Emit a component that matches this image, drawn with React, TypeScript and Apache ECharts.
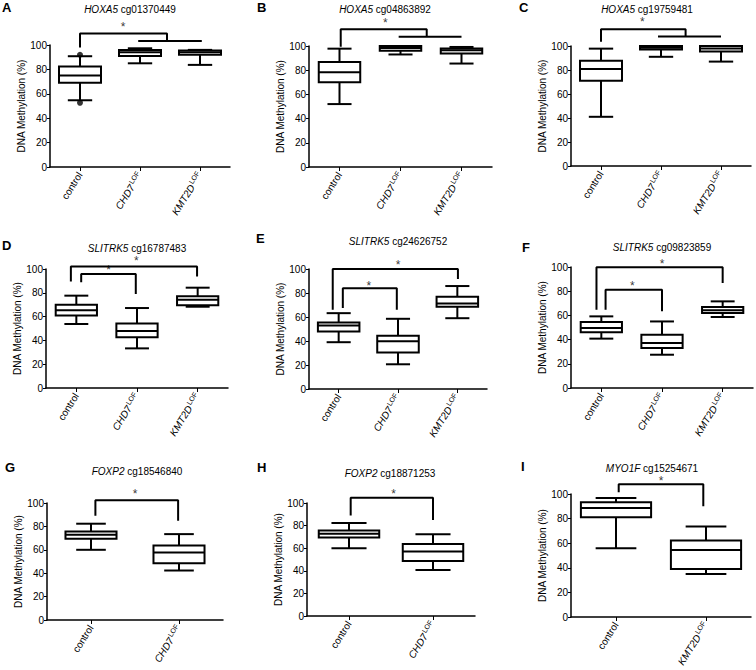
import React, { useEffect, useRef } from 'react';
import * as echarts from 'echarts';

const FONT = '"Liberation Sans", Arial, Helvetica, sans-serif';

// Categories
const catsThree = ['control', 'CHD7', 'KMT2D'];
const catsCHD7 = ['control', 'CHD7'];
const catsKMT2D = ['control', 'KMT2D'];

// Box statistics per group: [lower whisker, Q1, median, Q3, upper whisker]
const boxA = [[54.7, 69, 75, 82.4, 90.8], [85, 91, 94, 96, 97.3], [83.7, 92, 94, 95.4, 96]];
const outA = [[0, 92], [0, 52.6]];
const boxB = [[52, 70.1, 78.4, 86.8, 97.8], [93, 96, 98.4, 100, 100], [85.5, 93.7, 96.4, 98, 99.2]];
const boxC = [[41, 71.1, 80.8, 87.8, 97.8], [91, 97, 98.5, 100, 100], [87, 95.5, 98, 100, 100]];
const boxD = [[53.8, 61, 65.3, 70, 77.6], [33.3, 42.6, 47.9, 54.3, 67.2], [68.3, 69.5, 74.2, 77, 84.3]];
const boxE = [[39, 47.9, 52.9, 55.4, 63.2], [20.6, 30.4, 39.8, 44.3, 58.5], [59, 68.5, 71.3, 76.9, 85.8]];
const boxF = [[40.8, 46, 49.6, 54.5, 59.2], [27.5, 33, 37.2, 44, 55], [58.7, 62, 64.2, 67, 71.6]];
const boxG = [[60, 69.4, 72.9, 75.7, 82.3], [42.3, 48.6, 57.7, 63.7, 73.4]];
const boxH = [[59.9, 69.4, 72.7, 75.7, 82.2], [40.7, 48.7, 57, 63.8, 72.4]];
const boxI = [[55.9, 81, 88.6, 93.2, 96.7], [34.9, 39, 54.5, 62.1, 73.6]];

// Significance brackets: polylines in [category position, % methylation]
const brA = [[[0, 98], [0, 109.5], [1.45, 109.5], [1.45, 103.3]], [[0.97, 103.3], [2.03, 103.3]]];
const starA = [[0.72, 117]];
const brB = [[[0.02, 99.4], [0.02, 113.8], [1.43, 113.8], [1.43, 107.7]], [[0.97, 107.7], [2.0, 107.7]]];
const starB = [[0.75, 121.5]];
const brC = [[[0, 103.6], [0, 114], [1.41, 114], [1.41, 108]], [[0.95, 108], [2.0, 108]]];
const starC = [[0.69, 122.5]];
const brD = [[[-0.09, 89.6], [-0.09, 102.2], [1.99, 102.2], [1.99, 93.8]], [[0.08, 88.8], [0.08, 95.8], [0.98, 95.8], [0.98, 79]]];
const starD = [[0.99, 109], [0.53, 101.4]];
const brE = [[[-0.1, 66], [-0.1, 100], [2.01, 100], [2.01, 91.6]], [[0.07, 67.4], [0.07, 84], [0.98, 84], [0.98, 66]]];
const starE = [[1.0, 105.8], [0.51, 88.3]];
const brF = [[[-0.08, 64.7], [-0.08, 99.7], [2.0, 99.7], [2.0, 86.8]], [[0.07, 64.7], [0.07, 81.3], [1.0, 81.3], [1.0, 63.4]]];
const starF = [[1.0, 104.7], [0.51, 86.8]];
const brG = [[[0.05, 89], [0.05, 102.3], [0.99, 102.3], [0.99, 84.9]]];
const starG = [[0.5, 110]];
const brH = [[[0.02, 89], [0.02, 104.7], [1.0, 104.7], [1.0, 85]]];
const starH = [[0.53, 111]];
const brI = [[[0.03, 101.4], [0.03, 108], [0.97, 108], [0.97, 90]]];
const starI = [[0.5, 113]];

const yTicks = [0, 20, 40, 60, 80, 100];

type Panel = {
  letter: string; gene: string; probe: string; cats: string[]; boxes: number[][];
  outliers?: number[][]; brackets: number[][][]; stars: number[][];
  grid: { left: number; top: number; width: number; height: number };
  title: [number, number]; letterPos: [number, number]; nameGap: number; boxFrac: number;
};

const panels: Panel[] = [
  { letter: 'A', gene: 'HOXA5', probe: 'cg01370449', cats: catsThree, boxes: boxA, outliers: outA, brackets: brA, stars: starA,
    grid: { left: 50, top: 45, width: 180, height: 122 }, title: [130, 10], letterPos: [2, 8], nameGap: 23, boxFrac: 0.7 },
  { letter: 'B', gene: 'HOXA5', probe: 'cg04863892', cats: catsThree, boxes: boxB, brackets: brB, stars: starB,
    grid: { left: 309, top: 46, width: 183, height: 121 }, title: [385, 10], letterPos: [257, 8], nameGap: 22, boxFrac: 0.68 },
  { letter: 'C', gene: 'HOXA5', probe: 'cg19759481', cats: catsThree, boxes: boxC, brackets: brC, stars: starC,
    grid: { left: 571, top: 46, width: 180, height: 120 }, title: [647, 10], letterPos: [519, 8], nameGap: 22, boxFrac: 0.7 },
  { letter: 'D', gene: 'SLITRK5', probe: 'cg16787483', cats: catsThree, boxes: boxD, brackets: brD, stars: starD,
    grid: { left: 46, top: 269, width: 182, height: 119 }, title: [137, 249], letterPos: [2, 246], nameGap: 21, boxFrac: 0.68 },
  { letter: 'E', gene: 'SLITRK5', probe: 'cg24626752', cats: catsThree, boxes: boxE, brackets: brE, stars: starE,
    grid: { left: 309, top: 269, width: 178, height: 120 }, title: [398, 242], letterPos: [256, 239], nameGap: 22, boxFrac: 0.7 },
  { letter: 'F', gene: 'SLITRK5', probe: 'cg09823859', cats: catsThree, boxes: boxF, brackets: brF, stars: starF,
    grid: { left: 571, top: 267, width: 182, height: 121 }, title: [662, 248], letterPos: [522, 248], nameGap: 22, boxFrac: 0.68 },
  { letter: 'G', gene: 'FOXP2', probe: 'cg18546840', cats: catsCHD7, boxes: boxG, brackets: brG, stars: starG,
    grid: { left: 47, top: 503, width: 176, height: 117 }, title: [137, 472], letterPos: [5, 468], nameGap: 22, boxFrac: 0.58 },
  { letter: 'H', gene: 'FOXP2', probe: 'cg18871253', cats: catsCHD7, boxes: boxH, brackets: brH, stars: starH,
    grid: { left: 307, top: 503, width: 168, height: 113 }, title: [390, 474], letterPos: [257, 468], nameGap: 21, boxFrac: 0.72 },
  { letter: 'I', gene: 'MYO1F', probe: 'cg15254671', cats: catsKMT2D, boxes: boxI, brackets: brI, stars: starI,
    grid: { left: 571, top: 494, width: 180, height: 123 }, title: [652, 469], letterPos: [521, 467], nameGap: 22, boxFrac: 0.78 },
];

const BLACK = '#000';

function buildOption() {
  const grid: any[] = [];
  const xAxis: any[] = [];
  const yAxis: any[] = [];
  const series: any[] = [];
  const title: any[] = [];

  panels.forEach((p, k) => {
    grid.push({ ...p.grid, containLabel: false });
    xAxis.push({
      type: 'category', gridIndex: k, data: p.cats,
      axisLine: { show: true, onZero: false, lineStyle: { color: BLACK, width: 1.5 } },
      axisTick: { show: true, alignWithLabel: true, length: 4, lineStyle: { color: BLACK, width: 1 } },
      axisLabel: {
        rotate: 58, margin: 6, color: BLACK, fontSize: 10, fontFamily: FONT, interval: 0,
        formatter: (v: string) => (v === 'control' ? '{n|control}' : `{i|${v}}{s|LOF}`),
        rich: {
          n: { fontSize: 10, fontFamily: FONT, color: BLACK },
          i: { fontSize: 10, fontStyle: 'italic', fontFamily: FONT, color: BLACK, lineHeight: 12 },
          s: { fontSize: 7, fontFamily: FONT, color: BLACK, verticalAlign: 'top', lineHeight: 12, padding: [0, 0, 0, 1] },
        },
      },
      splitLine: { show: false },
    });
    xAxis.push({
      type: 'value', gridIndex: k, show: false, min: -0.5, max: p.cats.length - 0.5,
      axisLine: { onZero: false }, splitLine: { show: false },
    });
    yAxis.push({
      type: 'value', gridIndex: k, min: yTicks[0], max: yTicks[yTicks.length - 1], interval: 20,
      axisLine: { show: true, onZero: false, lineStyle: { color: BLACK, width: 1.5 } },
      axisTick: { show: true, length: 3, lineStyle: { color: BLACK, width: 1 } },
      axisLabel: { color: BLACK, fontSize: 10, fontFamily: FONT, margin: 3 },
      splitLine: { show: false },
      name: 'DNA Methylation (%)', nameLocation: 'middle', nameGap: p.nameGap,
      nameTextStyle: { color: BLACK, fontSize: 10, fontFamily: FONT },
    });

    const frac = p.boxFrac;
    series.push({
      type: 'custom', xAxisIndex: 2 * k, yAxisIndex: k, silent: true,
      data: p.boxes.map((b, i) => [i, ...b]),
      encode: { x: 0, y: [1, 2, 3, 4, 5] },
      renderItem: (_params: any, api: any) => {
        const x = api.value(0);
        const lo = api.coord([x, api.value(1)]);
        const q1 = api.coord([x, api.value(2)]);
        const md = api.coord([x, api.value(3)]);
        const q3 = api.coord([x, api.value(4)]);
        const hi = api.coord([x, api.value(5)]);
        const band = api.size([1, 0])[0];
        const bw = band * frac;
        const cw = bw * 0.58;
        const cx = lo[0];
        const st = { stroke: BLACK, lineWidth: 2, fill: 'none' };
        return {
          type: 'group',
          children: [
            { type: 'line', shape: { x1: cx, y1: hi[1], x2: cx, y2: q3[1] }, style: st },
            { type: 'line', shape: { x1: cx, y1: q1[1], x2: cx, y2: lo[1] }, style: st },
            { type: 'line', shape: { x1: cx - cw / 2, y1: hi[1], x2: cx + cw / 2, y2: hi[1] }, style: st },
            { type: 'line', shape: { x1: cx - cw / 2, y1: lo[1], x2: cx + cw / 2, y2: lo[1] }, style: st },
            { type: 'rect', shape: { x: cx - bw / 2, y: q3[1], width: bw, height: q1[1] - q3[1] },
              style: { fill: '#fff', stroke: BLACK, lineWidth: 2 } },
            { type: 'line', shape: { x1: cx - bw / 2, y1: md[1], x2: cx + bw / 2, y2: md[1] }, style: st },
          ],
        };
      },
    });
    if (p.outliers) {
      series.push({
        type: 'scatter', xAxisIndex: 2 * k, yAxisIndex: k, silent: true,
        data: p.outliers, symbol: 'circle', symbolSize: 6, itemStyle: { color: BLACK }, z: 5,
      });
    }
    p.brackets.forEach((br) => {
      series.push({
        type: 'line', xAxisIndex: 2 * k + 1, yAxisIndex: k, silent: true, clip: false,
        data: br, symbol: 'none', lineStyle: { color: BLACK, width: 2 },
      });
    });
    series.push({
      type: 'scatter', xAxisIndex: 2 * k + 1, yAxisIndex: k, silent: true, clip: false,
      data: p.stars, symbolSize: 1, itemStyle: { color: 'rgba(0,0,0,0)' },
      label: { show: true, position: 'inside', formatter: '*', color: BLACK, fontSize: 12, fontFamily: FONT, offset: [0, 3] },
    });

    title.push({
      text: `{i|${p.gene}} ${p.probe}`, left: p.title[0], top: p.title[1] - 6, textAlign: 'center', padding: 0,
      textStyle: { fontSize: 10, fontWeight: 'normal', color: BLACK, fontFamily: FONT,
        rich: { i: { fontSize: 10, fontStyle: 'italic', color: BLACK, fontFamily: FONT } } },
    });
    title.push({
      text: p.letter, left: p.letterPos[0], top: p.letterPos[1] - 7, padding: 0,
      textStyle: { fontSize: 13, fontWeight: 'bold', color: BLACK, fontFamily: FONT },
    });
  });

  return { animation: false, backgroundColor: '#fff', textStyle: { fontFamily: FONT }, title, grid, xAxis, yAxis, series };
}

export default function App() {
  const ref = useRef<HTMLDivElement>(null);
  useEffect(() => {
    document.body.style.margin = '0';
    const chart = echarts.init(ref.current as HTMLDivElement, null, { renderer: 'svg' });
    chart.setOption(buildOption());
    return () => chart.dispose();
  }, []);
  return <div ref={ref} style={{ width: 756, height: 670, background: '#fff' }} />;
}
